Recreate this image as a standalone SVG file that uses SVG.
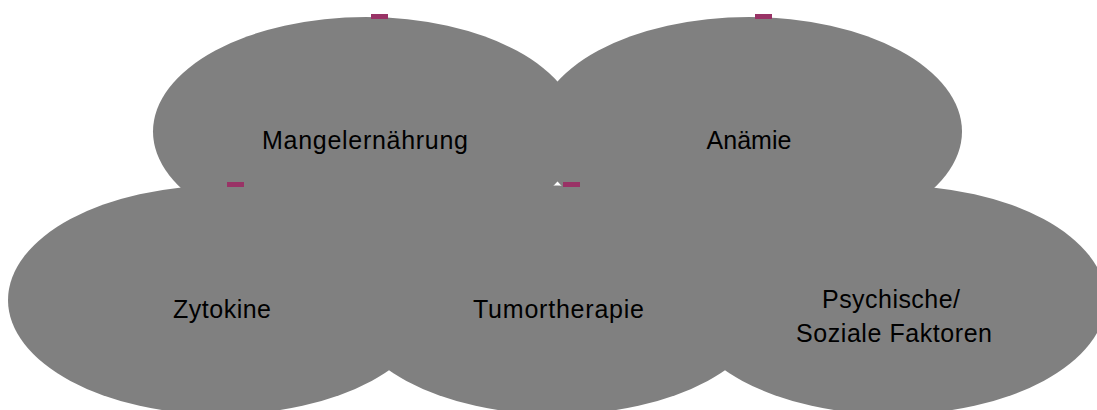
<svg xmlns="http://www.w3.org/2000/svg" width="1097" height="410" viewBox="0 0 1097 410">
<style>
.blob{fill:#808080;stroke:none}
.lbl{font-family:"Liberation Sans",Arial,sans-serif;font-size:25px;fill:#000;text-anchor:middle}
.tick{fill:#993366}
</style>
<rect x="0" y="0" width="1097" height="410" fill="#ffffff"/>
<g id="node-mangelernaehrung">
<ellipse class="blob" cx="366" cy="131.5" rx="213" ry="114.5"/>
</g>
<g id="node-anaemie">
<ellipse class="blob" cx="749" cy="131.5" rx="213" ry="114.5"/>
</g>
<g id="node-zytokine">
<ellipse class="blob" cx="221" cy="300" rx="213" ry="114.5"/>
</g>
<g id="node-tumortherapie">
<ellipse class="blob" cx="557" cy="300" rx="213" ry="114.5"/>
</g>
<g id="node-psychische">
<ellipse class="blob" cx="893" cy="300" rx="213" ry="114.5"/>
</g>
<g id="labels">
<text class="lbl" x="365" y="149" textLength="206">Mangelernährung</text>
<text class="lbl" x="749" y="149" textLength="85">Anämie</text>
<text class="lbl" x="222" y="318" textLength="98">Zytokine</text>
<text class="lbl" x="558.5" y="318" textLength="171">Tumortherapie</text>
<text class="lbl" x="891" y="308" textLength="138">Psychische/</text>
<text class="lbl" x="894" y="342" textLength="196">Soziale Faktoren</text>
</g>
<g id="connectors">
<rect class="tick" x="371" y="14" width="17" height="5"/>
<rect class="tick" x="755" y="14" width="17" height="5"/>
<rect class="tick" x="227" y="182" width="17" height="5"/>
<rect class="tick" x="563" y="182" width="17" height="5"/>
</g>
</svg>
